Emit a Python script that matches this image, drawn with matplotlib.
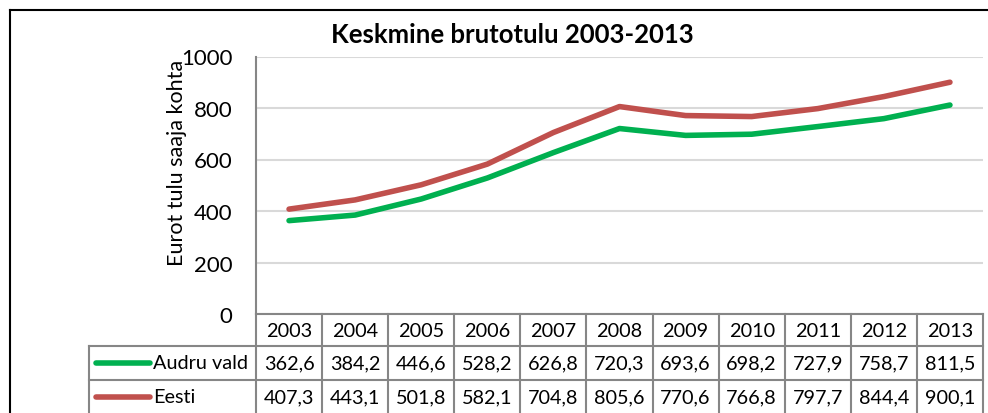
import matplotlib
matplotlib.use("Agg")
import matplotlib.pyplot as plt
from matplotlib.lines import Line2D

plt.rcParams['font.family'] = ['Lato', 'DejaVu Sans']

years = ['2003', '2004', '2005', '2006', '2007', '2008', '2009', '2010', '2011', '2012', '2013']
audru = [362.6, 384.2, 446.6, 528.2, 626.8, 720.3, 693.6, 698.2, 727.9, 758.7, 811.5]
eesti = [407.3, 443.1, 501.8, 582.1, 704.8, 805.6, 770.6, 766.8, 797.7, 844.4, 900.1]
series = [('Audru vald', audru, '#00B050'), ('Eesti', eesti, '#C0504D')]

W, H = 988, 414
fig = plt.figure(figsize=(W / 100, H / 100), dpi=100)

def px(x0, y0, x1, y1):
    # figure rect from pixel box (top-left origin)
    return [x0 / W, 1 - y1 / H, (x1 - x0) / W, (y1 - y0) / H]

left, right, top, bottom = 256, 983, 57.5, 315
ax = fig.add_axes(px(left, top, right, bottom))
n = len(years)
x = list(range(n))
for name, vals, col in series:
    ax.plot(x, vals, color=col, lw=4, solid_capstyle='round')
ax.set_xlim(-0.5, n - 0.5)
ax.set_ylim(0, 1000)
ax.set_yticks(range(0, 1001, 200))
ax.tick_params(axis='y', length=0, labelsize=16, pad=17)
ax.set_xticks([])
ax.grid(axis='y', color='#D9D9D9', lw=1.5)
for s in ['top', 'right', 'bottom']:
    ax.spines[s].set_visible(False)
ax.spines['left'].set_color('#868686')
ax.spines['left'].set_linewidth(1.5)
ax.set_axisbelow(True)

# data table
colw = (right - left) / n
tl = 89
tax = fig.add_axes(px(tl, bottom, right, H))
tax.set_xlim(-0.5 - (left - tl) / colw, n - 0.5)
tax.set_ylim(H - bottom, 0)
tax.axis('off')
gc = '#868686'
r0, r1, r2, r3 = 0, 32, 66, 100
tax.plot([-0.5, n - 0.5], [r0, r0], color=gc, lw=1.5, clip_on=False)
for r in (r1, r2):
    tax.plot([tax.get_xlim()[0], n - 0.5], [r, r], color=gc, lw=1.5, clip_on=False)
for i in range(n + 1):
    tax.plot([i - 0.5, i - 0.5], [r0, r3], color=gc, lw=1.5, clip_on=False)
tax.plot([tax.get_xlim()[0]] * 2, [r1, r3], color=gc, lw=1.5, clip_on=False)
fs = 14.3
for i, yv in enumerate(years):
    tax.text(i, (r0 + r1) / 2 + 1, yv, ha='center', va='center', fontsize=fs)
x0 = tax.get_xlim()[0]
for k, (name, vals, col) in enumerate(series):
    yc = [(r1 + r2) / 2, (r2 + r3) / 2][k]
    tax.plot([x0 + 7 / colw, x0 + 61 / colw], [yc, yc], color=col, lw=4,
             solid_capstyle='round', clip_on=False)
    tax.text(x0 + 64 / colw, yc, name, ha='left', va='center', fontsize=fs)
    for i, v in enumerate(vals):
        tax.text(i, yc, f'{v:.1f}'.replace('.', ','), ha='center', va='center',
                 fontsize=fs)

fig.text(512 / W, 1 - 35 / H, 'Keskmine brutotulu 2003-2013', ha='center',
         va='center', fontsize=18.5, fontweight='bold')
fig.text(177 / W, 1 - 163 / H, 'Eurot tulu saaja kohta', rotation=90,
         ha='center', va='center', fontsize=15.5)

# chart border
fig.add_artist(Line2D([10 / W, 10 / W], [0, 1 - 11 / H], color='black', lw=1.5))
fig.add_artist(Line2D([10 / W, 1], [1 - 11 / H, 1 - 11 / H], color='black', lw=1.5))

fig.savefig('out.png', dpi=100)
